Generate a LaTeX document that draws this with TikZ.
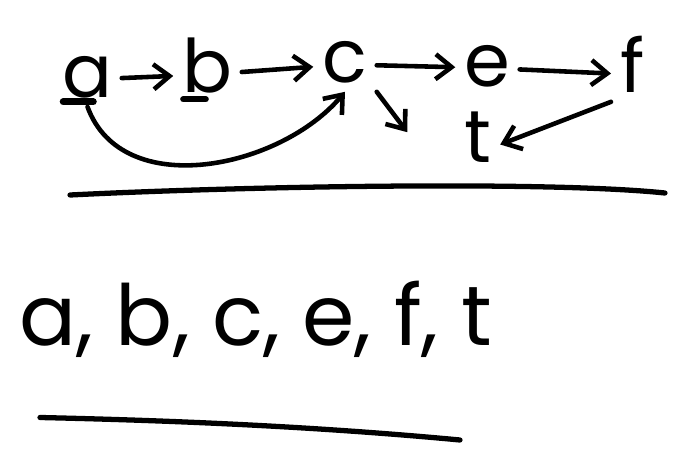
\documentclass[tikz,border=0pt]{standalone}
\usepackage{fontspec}
\setmainfont{Poppins}
\usetikzlibrary{arrows.meta}
\begin{document}
\begin{tikzpicture}[line width=2.6pt, line cap=round,
    letter/.style={font=\fontsize{42}{46}\selectfont, anchor=base, text height=0.72cm, text depth=0pt, inner sep=4pt},
    arr/.style={-{Straight Barb[length=3.2mm, width=5mm]}}]
            \useasboundingbox (0,0) rectangle (13.64,-9.12);

            \node[letter] (A) at (1.75,-1.95) {a};
            \node[letter] (B) at (4.15,-1.85) {b};
            \node[letter] (C) at (6.9,-1.65) {c};
            \node[letter] (E) at (9.75,-1.72) {e};
            \node[letter] (F) at (12.65,-1.85) {f};
            \node[letter] (T) at (9.55,-3.25) {t};

            \draw[arr] (A) -- (B);
            \draw[arr] (B) -- (C);
            \draw[arr] (C) -- (E);
            \draw[arr] (E) -- (F);
            \draw[arr] (F.south west) -- (T.east);
            \draw[arr] (C.south east) -- ([xshift=-0.95cm,yshift=-0.3cm]T.north west);
            \draw[arr] (A.south) to[out=-70, in=-130] (C.south);

            % marked ones
            \draw[line width=4pt] (A.south west) ++(0.2,0.1) -- ++(0.6,0);
            \draw[line width=3.5pt] (B.south west) ++(0.2,0.05) -- ++(0.45,0);

            \draw[line width=3pt] (1.4,-3.9) .. controls (5,-3.72) and (11,-3.62) .. (13.3,-3.86);

            \node[font=\fontsize{48}{52}\selectfont, anchor=base west, inner sep=0pt] (order) at (0.35,-6.9) {a, b, c, e, f, t};

            \draw[line width=3pt] (0.8,-8.35) .. controls (3,-8.4) and (6,-8.5) .. (9.2,-8.8);
\end{tikzpicture}
\end{document}
